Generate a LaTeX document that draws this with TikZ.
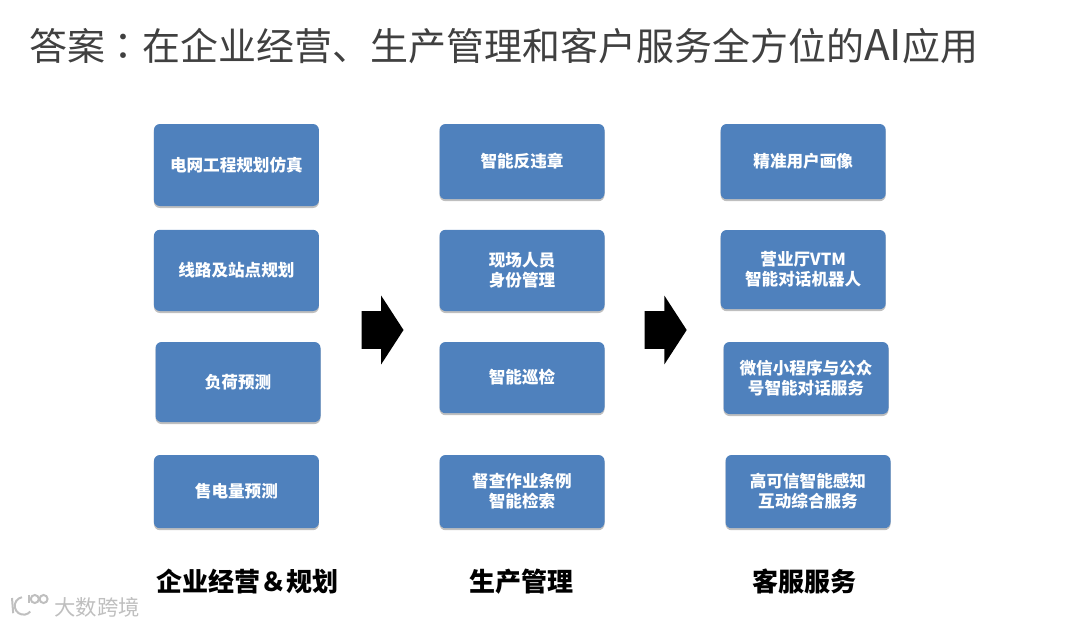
\documentclass[tikz,border=0pt]{standalone}
\usepackage{fontspec}
\usepackage{xcolor}
\usetikzlibrary{shapes.arrows, shadows}
\setmainfont{Noto Sans CJK SC}
\newfontfamily\colonfont{Noto Sans CJK TC}
\definecolor{BoxBlue}{HTML}{4F81BD}
\definecolor{TitleGray}{HTML}{404040}
\tikzset{
    % Blue boxes, one look for all three columns
    component/.style={
        rectangle,
        rounded corners=0.15cm,
        fill=BoxBlue,
        text=white,
        minimum width=4.125cm,
        align=center,
        inner sep=0pt,
        font=\fontsize{11.8}{14.2}\selectfont\bfseries,
        drop shadow={shadow xshift=0cm, shadow yshift=-0.05cm, opacity=0.25, fill=black}
    },
    step arrow/.style={
        single arrow,
        fill=black,
        inner xsep=0pt,
        inner ysep=0.4625cm,
        minimum height=1.05cm,
        single arrow head extend=0.3875cm,
        single arrow tip angle=114,
        single arrow head indent=0pt
    },
    column label/.style={
        font=\fontsize{18.5}{22}\selectfont\bfseries
    },
    mark text/.style={
        text=black!25,
        font=\fontsize{15.2}{18}\selectfont
    },
    mark line/.style={
        draw=black!25,
        line width=0.05cm
    }
}
\begin{document}
\begin{tikzpicture}
    \useasboundingbox (0,0) rectangle (27,-15.675);

    % Title
    \node[anchor=west, inner sep=0pt, text=TitleGray, font=\fontsize{27}{32}\selectfont] (title) at (0.72,-1.15) {答案{\colonfont ：}在企业经营、生产管理和客户服务全方位的{\fontsize{30}{32}\selectfont AI}应用};

    % Business column
    \node[component, minimum height=2.05cm] (grid) at (5.91,-4.125) {电网工程规划仿真};
    \node[component, minimum height=2.03cm] (line) at (5.91,-6.76) {线路及站点规划};
    \node[component, minimum height=2cm] (load) at (5.95,-9.55) {负荷预测};
    \node[component, minimum height=1.83cm] (sales) at (5.91,-12.29) {售电量预测};

    % Production column
    \node[component, minimum height=1.88cm] (violation) at (13.05,-4.04) {智能反违章};
    \node[component, minimum height=2.03cm] (identity) at (13.05,-6.76) {现场人员\\身份管理};
    \node[component, minimum height=1.78cm] (patrol) at (13.05,-9.44) {智能巡检};
    \node[component, minimum height=1.83cm] (search) at (13.05,-12.29) {督查作业条例\\智能检索};

    % Customer column
    \node[component, minimum height=1.88cm] (profile) at (20.08,-4.04) {精准用户画像};
    \node[component, minimum height=1.98cm] (vtm) at (20.08,-6.74) {营业厅VTM\\智能对话机器人};
    \node[component, minimum height=1.8cm] (wechat) at (20.15,-9.45) {微信小程序与公众\\号智能对话服务};
    \node[component, minimum height=1.83cm] (sensing) at (20.2,-12.29) {高可信智能感知\\互动综合服务};

    % Arrows between columns
    \node[step arrow] (first) at (9.41,-8.25) {};
    \node[step arrow] (second) at (16.49,-8.25) {};

    % Column labels
    \node[column label] (business) at (6.19,-14.53) {企业经营＆规划};
    \node[column label] (production) at (13.03,-14.53) {生产管理};
    \node[column label] (service) at (20.11,-14.53) {客服服务};

    % Watermark
    \node[mark text] (markname) at (2.43,-15.18) {大数跨境};
    \draw[mark line] (0.3,-14.95) -- (0.33,-15.33);
    \draw[mark line] (0.55,-14.93) arc (100:320:0.22);
    \draw[mark line] (0.72,-14.87) -- (0.72,-15.07);
    \draw[mark line] (0.87,-14.975) circle (0.1) (1.09,-14.975) circle (0.1);
\end{tikzpicture}
\end{document}
